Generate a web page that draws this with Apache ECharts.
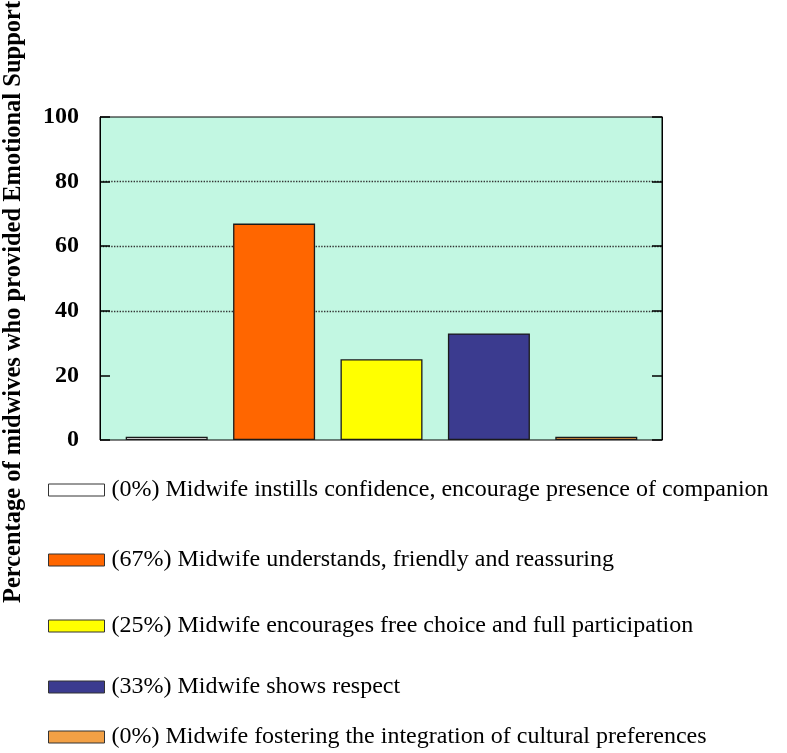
<!DOCTYPE html>
<html><head><meta charset="utf-8">
<script src="https://cdn.jsdelivr.net/npm/echarts@6/dist/echarts.min.js"></script>
<style>html,body{margin:0;padding:0;background:#fff}#c{width:787px;height:753px}</style>
</head><body><div id="c"></div>
<script>
const categories = ['c1','c2','c3','c4','c5'];
const seriesNames = [
  '(0%) Midwife instills confidence, encourage presence of companion',
  '(67%) Midwife understands, friendly and reassuring',
  '(25%) Midwife encourages free choice and full participation',
  '(33%) Midwife shows respect',
  '(0%) Midwife fostering the integration of cultural preferences'
];
const values = [1, 67, 25, 33, 1];
const colors = ['#FFFFFF', '#FF6600', '#FFFF00', '#3B3B8F', '#F2A045'];
const yTicks = [0, 20, 40, 60, 80, 100];
const yTitle = 'Percentage of midwives who provided Emotional Support';
const legendCenters = [491, 561, 627, 688, 738];

const chart = echarts.init(document.getElementById('c'));
const serif = '"Liberation Serif", "Times New Roman", serif';

const series = seriesNames.map((name, i) => ({
  name: name,
  type: 'bar',
  xAxisIndex: 1,
  yAxisIndex: 2,
  stack: 'all',
  barWidth: 82,
  data: categories.map((c, j) => (j === i ? values[i] : null)),
  itemStyle: { color: colors[i], borderColor: '#1a1a1a', borderWidth: 1.3 },
  emphasis: { disabled: true }
}));

const legends = seriesNames.map((name, i) => ({
  data: [name],
  left: 48,
  top: legendCenters[i] - 13,
  orient: 'vertical',
  padding: 0,
  icon: 'rect',
  itemWidth: 56,
  itemHeight: 12,
  selectedMode: false,
  itemStyle: { borderColor: '#333', borderWidth: 1 },
  textStyle: { fontFamily: serif, fontSize: 24, color: '#000', padding: [0, 0, 0, 2] }
}));

chart.setOption({
  animation: false,
  grid: [
    { left: 100, top: 117, width: 562, height: 323, show: true, backgroundColor: '#C2F7E2', borderColor: '#000', borderWidth: 1 },
    { left: 113, top: 117, width: 537, height: 323 }
  ],
  xAxis: [
    { type: 'category', gridIndex: 0, data: categories, show: false },
    { type: 'category', gridIndex: 1, data: categories, show: false }
  ],
  yAxis: [
    {
      type: 'value', gridIndex: 0, min: 0, max: 100, interval: 20, position: 'left',
      axisLine: { show: true, lineStyle: { color: '#000' } },
      axisTick: { show: true, inside: true, length: 10, lineStyle: { color: '#000', width: 1.5 } },
      axisLabel: { fontFamily: serif, fontWeight: 'bold', fontSize: 24, color: '#000', margin: 21,
        formatter: v => yTicks.includes(v) ? String(v) : '' },
      splitLine: { show: true, lineStyle: { type: 'dotted', width: 1.4, color: ['rgba(0,0,0,0)', 'rgba(0,0,0,0)', '#333', '#333', '#333', 'rgba(0,0,0,0)'] } }
    },
    {
      type: 'value', gridIndex: 0, min: 0, max: 100, interval: 20, position: 'right',
      axisLine: { show: true, lineStyle: { color: '#000' } },
      axisTick: { show: true, inside: true, length: 10, lineStyle: { color: '#000', width: 1.5 } },
      axisLabel: { show: false },
      splitLine: { show: false }
    },
    { type: 'value', gridIndex: 1, min: 0, max: 100, show: false, splitLine: { show: false } }
  ],
  legend: legends,
  series: series,
  graphic: [{
    type: 'text',
    x: 14, y: 302,
    rotation: Math.PI / 2,
    style: {
      text: yTitle,
      fontFamily: serif, fontWeight: 'bold', fontSize: 24.5, fill: '#000',
      align: 'center', verticalAlign: 'middle'
    }
  }]
});
</script></body></html>
